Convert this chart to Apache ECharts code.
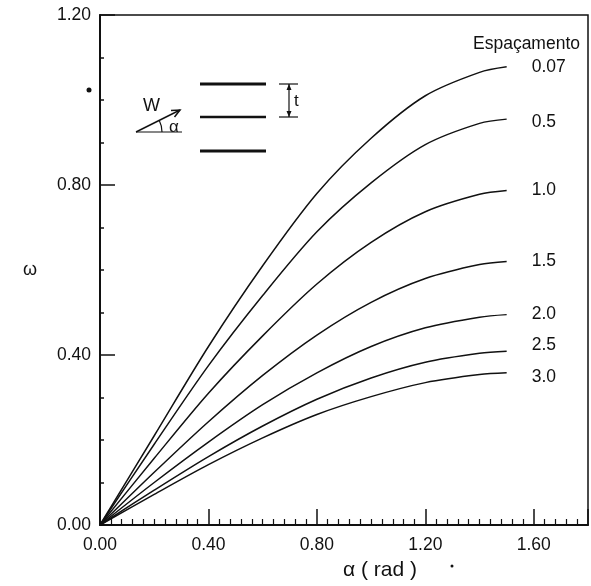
<!DOCTYPE html>
<html>
<head>
<meta charset="utf-8">
<script src="https://cdn.jsdelivr.net/npm/echarts@6/dist/echarts.min.js"></script>
<style>
  html, body { margin: 0; padding: 0; background: #fff; }
  #chart { width: 591px; height: 586px; }
</style>
</head>
<body>
<div id="chart"></div>
<script>
// Angle of attack, rad
const alpha = [0, 0.2, 0.4, 0.6, 0.8, 1.0, 1.2, 1.4, 1.5];

// Spacing values (series names) and omega for each spacing
const spacings = ['0.07', '0.5', '1.0', '1.5', '2.0', '2.5', '3.0'];
const omega007 = [0, 0.21, 0.42, 0.61, 0.78, 0.91, 1.01, 1.065, 1.078];
const omega05  = [0, 0.19, 0.375, 0.54, 0.69, 0.805, 0.895, 0.945, 0.955];
const omega10  = [0, 0.157, 0.31, 0.445, 0.567, 0.665, 0.737, 0.778, 0.787];
const omega15  = [0, 0.124, 0.243, 0.352, 0.447, 0.524, 0.58, 0.613, 0.620];
const omega20  = [0, 0.10, 0.195, 0.283, 0.358, 0.42, 0.464, 0.489, 0.495];
const omega25  = [0, 0.082, 0.161, 0.233, 0.296, 0.346, 0.383, 0.404, 0.409];
const omega30  = [0, 0.072, 0.142, 0.205, 0.26, 0.302, 0.335, 0.354, 0.358];
const omegaSets = [omega007, omega05, omega10, omega15, omega20, omega25, omega30];

// Tick labels
const xTicks = ['0.00', '0.40', '0.80', '1.20', '1.60'];
const yTicks = ['0.00', '0.40', '0.80', '1.20'];

const FONT = 'Liberation Sans, Arial, sans-serif';
const INK = '#111';

// small vertical nudges so the end labels do not crowd each other
const labelNudge = { '2.5': -6, '3.0': 4, '0.5': 3 };

const series = spacings.map((name, i) => ({
  name: name,
  type: 'line',
  smooth: 0.3,
  symbol: 'none',
  silent: true,
  lineStyle: { color: INK, width: 1.5 },
  data: alpha.map((a, k) => [a, omegaSets[i][k]]),
  endLabel: {
    show: true,
    formatter: '{a}',
    distance: 25,
    offset: [0, labelNudge[name] || 0],
    color: INK,
    fontFamily: FONT,
    fontSize: 17.5
  }
}));

const chart = echarts.init(document.getElementById('chart'), null, { renderer: 'canvas' });

chart.setOption({
  animation: false,
  backgroundColor: '#fff',
  grid: {
    left: 100, right: -2, top: 15, bottom: 60,
    show: true, borderColor: INK, borderWidth: 1.5
  },
  xAxis: {
    type: 'value', min: 0, max: 1.8, interval: 0.4,
    name: 'α ( rad )',
    nameLocation: 'middle',
    nameGap: 35,
    nameTextStyle: { color: INK, fontFamily: FONT, fontSize: 21, padding: [0, 0, 0, 72] },
    axisLine: { show: true, lineStyle: { color: INK, width: 2 } },
    axisTick: { show: true, inside: true, length: 16, lineStyle: { color: INK, width: 1.5 } },
    minorTick: { show: true, splitNumber: 10, length: 6, lineStyle: { color: INK, width: 1.2 } },
    splitLine: { show: false },
    axisLabel: {
      color: INK, fontFamily: FONT, fontSize: 17.5, margin: 11,
      formatter: v => { const i = Math.round(v / 0.4); return i < xTicks.length ? xTicks[i] : ''; }
    }
  },
  yAxis: {
    type: 'value', min: 0, max: 1.2, interval: 0.4,
    name: 'ω',
    nameLocation: 'middle',
    nameGap: 63,
    nameRotate: 0,
    nameTextStyle: { color: INK, fontFamily: FONT, fontSize: 18 },
    axisLine: { show: true, lineStyle: { color: INK, width: 2 } },
    axisTick: { show: true, inside: true, length: 15, lineStyle: { color: INK, width: 1.5 } },
    minorTick: { show: true, splitNumber: 4, length: 4, lineStyle: { color: INK, width: 1.5 } },
    splitLine: { show: false },
    axisLabel: {
      color: INK, fontFamily: FONT, fontSize: 17.5, margin: 9,
      formatter: v => yTicks[Math.round(v / 0.4)] || ''
    }
  },
  series: series,
  graphic: [
    // legend heading for the curve labels
    { type: 'text', left: 473, top: 35, style: { text: 'Espaçamento', fill: INK, font: '17.5px ' + FONT } },
    // stray dots
    { type: 'circle', shape: { cx: 89, cy: 90, r: 2.5 }, style: { fill: INK } },
    { type: 'circle', shape: { cx: 452, cy: 566, r: 1.5 }, style: { fill: INK } },
    // plate cascade sketch
    { type: 'line', shape: { x1: 200, y1: 84, x2: 266, y2: 84 }, style: { stroke: INK, lineWidth: 3 } },
    { type: 'line', shape: { x1: 200, y1: 117, x2: 266, y2: 117 }, style: { stroke: INK, lineWidth: 2.5 } },
    { type: 'line', shape: { x1: 200, y1: 151, x2: 266, y2: 151 }, style: { stroke: INK, lineWidth: 3 } },
    // spacing dimension t
    { type: 'line', shape: { x1: 289, y1: 84, x2: 289, y2: 117 }, style: { stroke: INK, lineWidth: 1.2 } },
    { type: 'line', shape: { x1: 279, y1: 84, x2: 298, y2: 84 }, style: { stroke: INK, lineWidth: 1.2 } },
    { type: 'line', shape: { x1: 279, y1: 117, x2: 298, y2: 117 }, style: { stroke: INK, lineWidth: 1.2 } },
    { type: 'polygon', shape: { points: [[289, 84], [286.5, 90], [291.5, 90]] }, style: { fill: INK } },
    { type: 'polygon', shape: { points: [[289, 117], [286.5, 111], [291.5, 111]] }, style: { fill: INK } },
    { type: 'text', left: 294, top: 93, style: { text: 't', fill: INK, font: '17px ' + FONT } },
    // flow direction W at angle alpha
    { type: 'line', shape: { x1: 136, y1: 132, x2: 182, y2: 132 }, style: { stroke: INK, lineWidth: 1.2 } },
    { type: 'line', shape: { x1: 136, y1: 132, x2: 180, y2: 110 }, style: { stroke: INK, lineWidth: 1.5 } },
    { type: 'polyline', shape: { points: [[171, 110.5], [180, 110], [174.5, 117]] }, style: { stroke: INK, lineWidth: 1.5, fill: null } },
    { type: 'arc', shape: { cx: 136, cy: 132, r: 26, startAngle: -0.47, endAngle: 0 }, style: { stroke: INK, lineWidth: 1.2, fill: null } },
    { type: 'text', left: 143, top: 97, style: { text: 'W', fill: INK, font: '18px ' + FONT } },
    { type: 'text', left: 169, top: 119, style: { text: 'α', fill: INK, font: '17px ' + FONT } }
  ]
});
</script>
</body>
</html>
